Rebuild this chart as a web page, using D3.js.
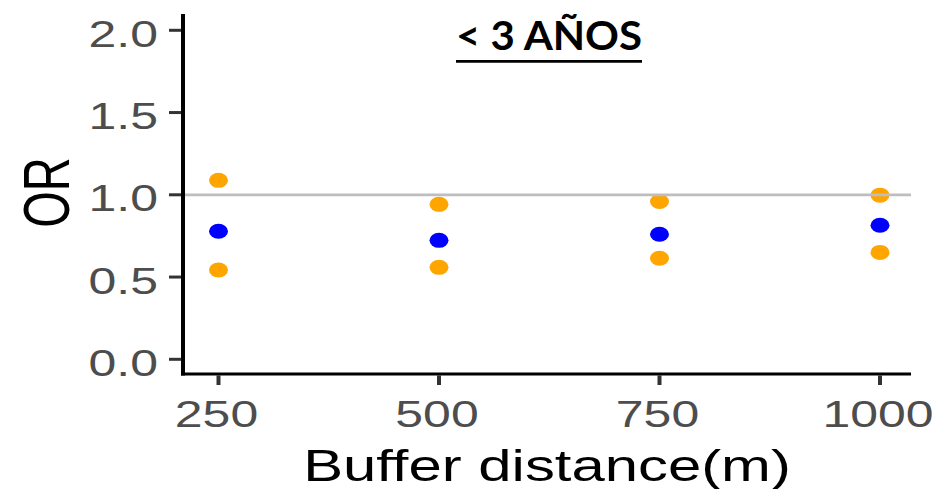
<!DOCTYPE html>
<html>
<head>
<meta charset="utf-8">
<script src="https://cdn.jsdelivr.net/npm/d3@7"></script>
<style>
  html, body { margin: 0; padding: 0; background: #ffffff; }
  svg { display: block; }
</style>
</head>
<body>
<script>
// Odds ratios by buffer distance, with 95% confidence bounds
const distances = ["250", "500", "750", "1000"];
const orValues  = [0.778, 0.723, 0.760, 0.815];
const ciLower   = [0.543, 0.559, 0.614, 0.650];
const ciUpper   = [1.088, 0.942, 0.959, 0.998];
const yTicks    = [0, 0.5, 1.0, 1.5, 2.0];
const refValue  = 1.0;
const titleText = "< 3 AÑOS";
const xTitle    = "Buffer distance(m)";
const yTitle    = "OR";

const W = 940, H = 489;
const panel = { left: 183, right: 911, top: 14, bottom: 374 };
const stretch = 1.35;          // horizontal stretch applied to axis text

const svg = d3.select("body").append("svg")
  .attr("width", W).attr("height", H);

const x = d3.scalePoint().domain(distances).range([218.5, 880]);
const y = d3.scaleLinear().domain([0, 2]).range([359.3, 30.3]);

// points: confidence bounds (orange) and estimates (blue)
const dotRx = 9.5, dotRy = 7.5;
const pts = svg.append("g");
const addDots = (vals, color) => {
  pts.selectAll(null).data(vals).join("ellipse")
    .attr("cx", (d, i) => x(distances[i]))
    .attr("cy", d => y(d))
    .attr("rx", dotRx).attr("ry", dotRy)
    .attr("fill", color);
};
addDots(ciUpper, "#FFA500");
addDots(ciLower, "#FFA500");
addDots(orValues, "#0000FF");

// reference line at OR = 1
svg.append("line")
  .attr("x1", panel.left + 2).attr("x2", panel.right)
  .attr("y1", y(refValue)).attr("y2", y(refValue))
  .attr("stroke", "#BEBEBE").attr("stroke-width", 2.7);

// y axis
const yAxis = svg.append("g");
yAxis.selectAll("line.tick").data(yTicks).join("line")
  .attr("class", "tick")
  .attr("x1", panel.left - 14).attr("x2", panel.left - 2)
  .attr("y1", d => y(d)).attr("y2", d => y(d))
  .attr("stroke", "#333333").attr("stroke-width", 3);
yAxis.selectAll("text").data(yTicks).join("text")
  .attr("transform", d => `translate(${panel.left - 25},${y(d) + 16.5}) scale(${stretch},1)`)
  .attr("text-anchor", "end")
  .attr("font-family", "Liberation Sans, Arial, sans-serif")
  .attr("font-size", 37)
  .attr("fill", "#4D4D4D")
  .text(d => d3.format(".1f")(d));
yAxis.append("line")
  .attr("x1", panel.left).attr("x2", panel.left)
  .attr("y1", panel.top).attr("y2", panel.bottom + 1.5)
  .attr("stroke", "#000").attr("stroke-width", 4);

// x axis
const xAxis = svg.append("g");
xAxis.selectAll("line.tick").data(distances).join("line")
  .attr("class", "tick")
  .attr("x1", d => x(d)).attr("x2", d => x(d))
  .attr("y1", panel.bottom + 1.5).attr("y2", panel.bottom + 11)
  .attr("stroke", "#333333").attr("stroke-width", 4);
xAxis.selectAll("text").data(distances).join("text")
  .attr("transform", d => `translate(${x(d) - 2},426.5) scale(${stretch},1)`)
  .attr("text-anchor", "middle")
  .attr("font-family", "Liberation Sans, Arial, sans-serif")
  .attr("font-size", 37)
  .attr("fill", "#4D4D4D")
  .text(d => d);
xAxis.append("line")
  .attr("x1", panel.left - 2).attr("x2", panel.right)
  .attr("y1", panel.bottom).attr("y2", panel.bottom)
  .attr("stroke", "#000").attr("stroke-width", 3);

// axis titles
svg.append("text")
  .attr("transform", `translate(${(panel.left + panel.right) / 2},480.7) scale(1.33,1)`)
  .attr("text-anchor", "middle")
  .attr("font-family", "Liberation Sans, Arial, sans-serif")
  .attr("font-size", 45)
  .attr("fill", "#000")
  .text(xTitle);
svg.append("text")
  .attr("transform", `translate(69,192.5) scale(1.38,1) rotate(-90)`)
  .attr("text-anchor", "middle")
  .attr("font-family", "Liberation Sans, Arial, sans-serif")
  .attr("font-size", 47)
  .attr("fill", "#000")
  .text(yTitle);

// underlined panel title
const title = svg.append("text")
  .attr("x", 549).attr("y", 49.5)
  .attr("text-anchor", "middle")
  .attr("font-family", "Lato, 'Open Sans', sans-serif")
  .attr("font-weight", 700)
  .attr("font-size", 41)
  .attr("textLength", 186)
  .attr("lengthAdjust", "spacingAndGlyphs")
  .attr("fill", "#000")
  .text(titleText);
const tb = title.node().getBBox();
svg.append("line")
  .attr("x1", tb.x).attr("x2", tb.x + tb.width)
  .attr("y1", 61.3).attr("y2", 61.3)
  .attr("stroke", "#000").attr("stroke-width", 2.7);
</script>
</body>
</html>
